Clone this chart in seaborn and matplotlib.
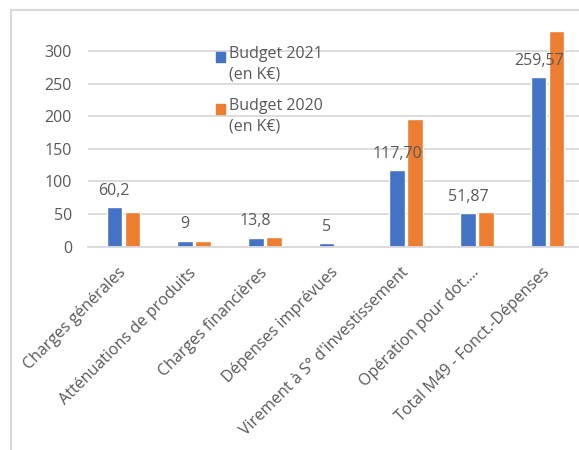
import matplotlib
matplotlib.use("Agg")
import matplotlib.pyplot as plt
import seaborn as sns
import pandas as pd
from matplotlib.patches import Rectangle

categories = ["Charges générales", "Atténuations de produits", "Charges financières",
              "Dépenses imprévues", "Virement à S° d'investissement",
              "Opération pour dot.…", "Total M49 - Fonct.-Dépenses"]
budget_2021 = [60.2, 9, 13.8, 5, 117.70, 51.87, 259.57]
budget_2020 = [53, 9, 15, 0, 196, 53, 330]
labels_2021 = ["60,2", "9", "13,8", "5", "117,70", "51,87", "259,57"]
series_names = ["Budget 2021\n(en K€)", "Budget 2020\n(en K€)"]
colors = ["#4472C4", "#ED7D31"]
yticks = [0, 50, 100, 150, 200, 250, 300]

df = pd.DataFrame({
    "cat": categories * 2,
    "val": budget_2021 + budget_2020,
    "serie": [series_names[0]] * len(categories) + [series_names[1]] * len(categories),
})

sns.set_theme(style="white")
plt.rcParams["font.family"] = ["Open Sans", "DejaVu Sans"]
txt = "#595959"
grid = "#D9D9D9"

fig = plt.figure(figsize=(5.79, 4.5), dpi=100)
W, H = 579, 450
x0, x1, y0, ytop = 88, 583, 246.7, 18.4
ax = fig.add_axes([x0 / W, (H - y0) / H, (x1 - x0) / W, (y0 - ytop) / H])

sns.barplot(data=df, x="cat", y="val", hue="serie", order=categories,
            hue_order=series_names, palette=colors, width=0.51, gap=0.14,
            legend=False, ax=ax, saturation=1)

ax.set_xlim(-0.5, len(categories) - 0.5)
ax.set_ylim(0, 350)
ax.set_yticks(yticks)
ax.set_yticklabels([str(v) for v in yticks], fontsize=11.5, color=txt)
ax.yaxis.grid(True, color=grid, linewidth=1.3)
ax.set_axisbelow(True)
for s in ["top", "right", "left"]:
    ax.spines[s].set_visible(False)
ax.spines["bottom"].set_color(grid)
ax.spines["bottom"].set_linewidth(1.3)
ax.tick_params(axis="both", length=0)
ax.tick_params(axis="y", pad=11.5)
ax.tick_params(axis="x", pad=17)
ax.set_xlabel("")
ax.set_ylabel("")
ax.set_xticks(range(len(categories)))
ax.set_xticklabels(categories, rotation=45, ha="right", va="center",
                   rotation_mode="anchor", fontsize=11.5, color=txt)

ax.bar_label(ax.containers[0], labels=labels_2021, padding=6, fontsize=11.5, color=txt)

# manual legend
for i, (name, col) in enumerate(zip(series_names, colors)):
    ly = 57.3 + i * 52
    fig.add_artist(Rectangle((215.7 / W, (H - ly - 5) / H), 9.5 / W, 10 / H,
                             transform=fig.transFigure, color=col))
    fig.text(229 / W, (H - ly + 11) / H, name, fontsize=11.5, color=txt,
             va="top", ha="left", linespacing=1.35)

# chart border
fig.add_artist(Rectangle((11 / W, -0.1), 1.2, (H - 10) / H + 0.1,
                         transform=fig.transFigure, fill=False,
                         edgecolor=grid, linewidth=1.6))

fig.savefig("out.png", dpi=100)
